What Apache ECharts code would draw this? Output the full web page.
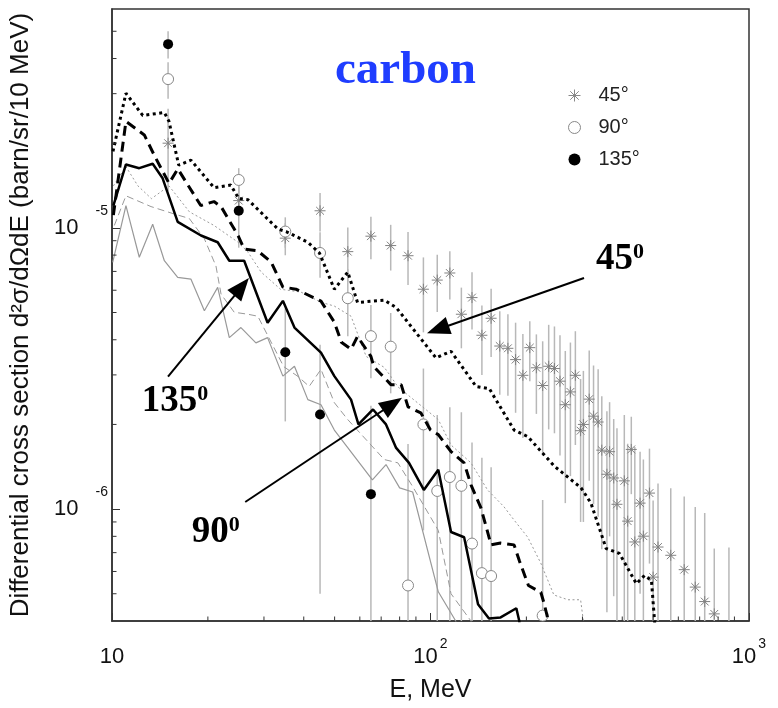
<!DOCTYPE html>
<html><head><meta charset="utf-8">
<script src="https://cdn.jsdelivr.net/npm/echarts@6/dist/echarts.min.js"></script>
<style>html,body{margin:0;padding:0;background:#fff}#c{width:778px;height:708px}</style>
</head><body><div id="c"></div>
<script>
// ---------------- data ----------------
// Experimental points (E in MeV, value in barn/sr/10 MeV, symmetric error)
const e45 = [15,25,35,45,55,65,75,85,95,105,115,125,135,145,155,165,175,185,195,205,215,225,235,245,255,265,275,285,296,302,315,325,336,345,358,365,376,385,406,416,427,438,455,466,487,500,518,568,626,678,726,778,865];
const v45 = [2.0e-5,1.25e-5,9.19e-6,1.15e-5,8.23e-6,9.34e-6,8.65e-6,7.96e-6,6.05e-6,6.52e-6,6.91e-6,4.93e-6,5.65e-6,4.15e-6,4.77e-6,3.80e-6,3.73e-6,3.40e-6,2.99e-6,3.75e-6,3.18e-6,2.75e-6,3.22e-6,3.16e-6,2.85e-6,2.35e-6,2.61e-6,2.99e-6,1.90e-6,2.0e-6,2.46e-6,2.14e-6,2.04e-6,1.62e-6,1.33e-6,1.60e-6,1.29e-6,1.04e-6,1.26e-6,9.06e-7,1.63e-6,7.64e-7,1.05e-6,8.01e-7,1.14e-6,5.73e-7,7.33e-7,6.85e-7,6.09e-7,5.28e-7,4.69e-7,4.24e-7,3.5e-7];
const err45 = [6.5e-6,1.5e-6,1.2e-6,1.8e-6,1.8e-6,1.6e-6,1.6e-6,1.7e-6,1.8e-6,1.5e-6,1.35e-6,1.2e-6,1.3e-6,1.15e-6,1.3e-6,1.25e-6,1.2e-6,1.2e-6,1.2e-6,0.9e-6,1.0e-6,1.2e-6,1.3e-6,1.3e-6,1.3e-6,1.3e-6,1.3e-6,1.3e-6,1.0e-6,1.1e-6,1.2e-6,1.1e-6,1.1e-6,0.9e-6,0.9e-6,0.8e-6,0.8e-6,0.9e-6,0.9e-6,0.8e-6,0.5e-6,0.9e-6,0.55e-6,0.7e-6,0.5e-6,0.5e-6,0.5e-6,0.5e-6,0.5e-6,0.49e-6,0.5e-6,0.3e-6,0.38e-6];

const e90 = [15,25,35,45,55,65,75,85,95,105,115,125,135,145,155,225];
const v90 = [3.38e-5,1.48e-5,9.7e-6,8.14e-6,5.62e-6,4.12e-6,3.78e-6,5.35e-7,2.0e-6,1.16e-6,1.30e-6,1.21e-6,7.54e-7,5.92e-7,5.78e-7,4.18e-7];
const err90 = [5e-6,1.5e-6,1.2e-6,1.5e-6,1.5e-6,1.2e-6,1.2e-6,1.17e-6,1.16e-6,1.0e-6,1.0e-6,1.0e-6,0.97e-6,0.93e-6,0.83e-6,0.66e-6];

const e135 = [15,25,35,45,65];
const v135 = [4.5e-5,1.15e-5,3.61e-6,2.17e-6,1.13e-6];
const err135 = [5e-6,3e-6,1.56e-6,1.67e-6,1.2e-6];

// Calculations, model A (thick black)
const calcA45E = [10.07,11.06,12.49,14.6,15.1,16.2,17.7,20.9,23.6,25.0,26.7,33.2,35.2,41.2,44.8,49.9,55,59,71.6,78,104,116,139,153,183,202,245,297,319,356,392,443,470,494,515];
const calcA45V = [1.87e-5,3.01e-5,2.51e-5,2.57e-5,2.39e-5,1.67e-5,1.74e-5,1.39e-5,1.42e-5,1.27e-5,1.26e-5,9.9e-6,9.7e-6,8.89e-6,8.14e-6,6.05e-6,6.96e-6,5.43e-6,5.53e-6,5.21e-6,3.45e-6,3.64e-6,2.73e-6,2.68e-6,1.91e-6,1.81e-6,1.42e-6,1.19e-6,1.05e-6,7.24e-7,6.95e-7,5.43e-7,5.81e-7,5.58e-7,3.0e-7];
const calcA90E = [10.1,11.06,12.63,13.58,15.1,16.1,19.0,20.9,22.0,24.2,24.9,26.0,28.7,31.6,34.4,37.8,45.3,49.9,52.5,56.3,59.0,65,66.4,75.1,80.9,85,93.2,100,105.8,116,127.5,134,144,155,166,183,190,203,222,227,233,236];
const calcA90V = [1.11e-5,2.39e-5,2.14e-5,1.81e-5,1.44e-5,1.62e-5,1.20e-5,1.24e-5,1.19e-5,9.9e-6,9.36e-6,8.41e-6,8.28e-6,7.56e-6,6.16e-6,6.05e-6,5.49e-6,4.62e-6,3.92e-6,3.70e-6,4.11e-6,3.49e-6,3.21e-6,2.77e-6,2.77e-6,2.31e-6,2.20e-6,1.91e-6,1.84e-6,1.60e-6,1.46e-6,1.22e-6,1.01e-6,7.46e-7,7.57e-7,7.46e-7,6.56e-7,5.35e-7,5.06e-7,4.65e-7,4.12e-7,3.0e-7];
const calcA135E = [10.1,11.06,12.18,13.42,14.42,16.08,19.03,21.47,23.35,26.0,30.8,34.4,37.4,45.3,49.9,56.3,59.4,66,72.5,78,85.6,95.3,105.8,116,127.5,141,152.6,166,186,190,192];
const calcA135V = [1.20e-5,1.68e-5,1.63e-5,1.69e-5,1.50e-5,1.05e-5,9.39e-6,8.89e-6,7.64e-6,7.64e-6,4.60e-6,5.50e-6,4.42e-6,3.60e-6,2.97e-6,2.45e-6,2.0e-6,2.26e-6,2.0e-6,1.65e-6,1.46e-6,1.17e-6,1.38e-6,8.29e-7,7.94e-7,4.59e-7,4.08e-7,4.12e-7,4.44e-7,4.0e-7,3.0e-7];

// Calculations, model B (thin grey)
const calcB45E = [10.1,11.06,12.06,13.3,15.1,17.5,20.9,24.8,26.7,29.4,33.8,39.2,45.3,49.9,56.3,62.8,71.6,75.1,79,105.8,116,134,151,170,183,202,222,244,270,296,302,305];
const calcB45V = [1.41e-5,1.65e-5,1.41e-5,1.27e-5,1.41e-5,1.14e-5,1.02e-5,8.91e-6,8.21e-6,6.96e-6,6.05e-6,5.91e-6,5.44e-6,5.27e-6,4.85e-6,3.49e-6,3.19e-6,2.96e-6,2.72e-6,2.08e-6,1.69e-6,1.46e-6,1.17e-6,1.02e-6,9.14e-7,7.94e-7,6.42e-7,4.95e-7,4.76e-7,4.76e-7,4.0e-7,3.0e-7];
const calcB90E = [10.17,11.06,13.26,15.69,17.48,19.5,21.2,22.0,24.2,26.7,28.7,30.9,34.6,38.4,41.6,45.3,49.9,55,71.6,79.0,88.0,105.8,116,134,140];
const calcB90V = [1.02e-5,1.30e-5,1.19e-5,1.12e-5,1.08e-5,9.14e-6,7.32e-6,5.81e-6,5.01e-6,4.93e-6,4.85e-6,4.12e-6,3.21e-6,2.96e-6,2.73e-6,3.14e-6,2.39e-6,2.08e-6,1.50e-6,1.46e-6,1.20e-6,8.4e-7,5.0e-7,4.0e-7,3.0e-7];
const calcB135E = [10.05,11.06,12.18,13.42,14.6,16.08,17.7,19.5,21.47,23.35,25.4,28.3,30.8,34.4,37.4,41.2,45.3,49.9,65.7,72.5,80,87.9,105.8,120,125];
const calcB135V = [7.54e-6,1.20e-5,7.86e-6,1.03e-5,7.64e-6,6.67e-6,6.57e-6,5.07e-6,6.14e-6,4.07e-6,4.42e-6,3.90e-6,4.07e-6,2.97e-6,3.22e-6,2.45e-6,2.35e-6,1.91e-6,1.27e-6,1.44e-6,1.19e-6,1.15e-6,5.08e-7,4.0e-7,3.0e-7];

// axes
const xRange = [10, 1000];
const yRange = [4e-7, 6e-5];
const xMinorTicks = [20,30,40,50,60,70,80,90,200,300,400,500,600,700,800,900];
const yMinorTicks = [5e-7,6e-7,7e-7,8e-7,9e-7,2e-6,3e-6,4e-6,5e-6,6e-6,7e-6,8e-6,9e-6,2e-5,3e-5,4e-5,5e-5];
const legendNames = ['45°','90°','135°'];

// annotations (data coordinates)
const arrows = [[303.4,6.63e-6,97.5,4.22e-6],[14.99,2.96e-6,26.9,6.63e-6],[26.2,1.06e-6,81.4,2.49e-6]];
const notes = [{t:'45',s:'0',E:330.9,v:7.75e-6},{t:'135',s:'0',E:12.4,v:2.41e-6},{t:'90',s:'0',E:17.8,v:8.27e-7}];

// ---------------- chart ----------------
const SANS = 'Liberation Sans';
const SERIF = 'Liberation Serif';
const star = 'path://M5 0L5 10M0 5L10 5M1.46 1.46L8.54 8.54M8.54 1.46L1.46 8.54';
const pairs = (E, V) => E.map((e, i) => [e, V[i]]);
const bars = (E, V, S) => E.map((e, i) => [e, Math.max(V[i] - S[i], 1e-9), V[i] + S[i]]);

function errRender(params, api) {
  const p1 = api.coord([api.value(0), api.value(2)]);
  const p2 = api.coord([api.value(0), api.value(1)]);
  return {type: 'line', shape: {x1: p1[0], y1: p1[1], x2: p2[0], y2: p2[1]},
    style: {stroke: '#b8b8b8', lineWidth: 1.5}};
}
function errSeries(data) {
  return {type: 'custom', renderItem: errRender, data: data, clip: true, z: 1,
    encode: {x: 0, y: [1, 2]}, silent: true};
}
function lineSeries(E, V, style) {
  return {type: 'line', data: pairs(E, V), showSymbol: false, symbol: 'none', clip: true,
    lineStyle: Object.assign({opacity: 1}, style), z: style.z || 4, silent: true};
}
const supFmt = (base, sup) => sup === '' ? '{b|' + base + '}' : '{b|' + base + '}{s|' + sup + '}';

const option = {
  animation: false,
  backgroundColor: '#fff',
  textStyle: {fontFamily: SANS},
  title: {text: 'carbon', left: 335, top: 47, padding: 0,
    textStyle: {fontFamily: SERIF, fontWeight: 'bold', fontSize: 47, color: '#1f3dff'}},
  legend: {
    orient: 'vertical', left: 563, top: 80, itemGap: 11, itemWidth: 12, itemHeight: 12,
    textStyle: {fontFamily: SANS, fontSize: 20, color: '#222', padding: [0, 0, 0, 13], lineHeight: 21},
    data: [
      {name: legendNames[0], icon: star, itemStyle: {color: '#888', borderColor: '#888', borderWidth: 1, opacity: 1}},
      {name: legendNames[1], icon: 'circle', itemStyle: {color: '#fff', borderColor: '#888', borderWidth: 1, opacity: 1}},
      {name: legendNames[2], icon: 'circle', itemStyle: {color: '#000', borderColor: '#000', borderWidth: 0, opacity: 1}}
    ]
  },
  grid: {left: 111, right: 29, top: 9, bottom: 87, show: true, borderColor: '#333', borderWidth: 1.5, backgroundColor: 'transparent'},
  xAxis: {
    type: 'log', logBase: 10, min: xRange[0], max: xRange[1],
    name: 'E, MeV', nameLocation: 'middle', nameGap: 57,
    nameTextStyle: {fontFamily: SANS, fontSize: 25, color: '#111'},
    axisLine: {show: true, lineStyle: {color: '#333', width: 1.5}},
    axisTick: {show: true, inside: true, length: 8, lineStyle: {color: '#333', width: 1}},
    splitLine: {show: false}, minorTick: {show: false},
    axisLabel: {
      margin: 16, color: '#111',
      formatter: function (v) {
        const e = Math.round(Math.log10(v));
        return e === 1 ? supFmt('10', '') : supFmt('10', String(e));
      },
      rich: {
        b: {fontFamily: SANS, fontSize: 22, lineHeight: 40, color: '#111'},
        s: {fontFamily: SANS, fontSize: 14, lineHeight: 12, verticalAlign: 'top', color: '#111', padding: [0, 0, 0, 2]}
      }
    }
  },
  yAxis: {
    type: 'log', logBase: 10, min: yRange[0], max: yRange[1],
    name: 'Differential cross section d²σ/dΩdE (barn/sr/10 MeV)', nameLocation: 'middle', nameGap: 78,
    nameTextStyle: {fontFamily: SANS, fontSize: 26, color: '#111'},
    axisLine: {show: true, lineStyle: {color: '#333', width: 1.5}},
    axisTick: {show: true, inside: true, length: 8, lineStyle: {color: '#333', width: 1}},
    splitLine: {show: false}, minorTick: {show: false},
    axisLabel: {
      margin: 4, color: '#111', showMinLabel: false, showMaxLabel: false,
      formatter: function (v) {
        const l = Math.log10(v), e = Math.round(l);
        if (Math.abs(l - e) > 0.01) return '';
        return supFmt('10', String(e));
      },
      rich: {
        b: {fontFamily: SANS, fontSize: 22, lineHeight: 48, color: '#111'},
        s: {fontFamily: SANS, fontSize: 14, lineHeight: 16, verticalAlign: 'top', color: '#111', padding: [0, 0, 0, 17]}
      }
    }
  },
  series: [
    // minor ticks
    {type: 'custom', silent: true, z: 10, clip: false, data: yMinorTicks.map(v => [xRange[0], v]),
      renderItem: (p, api) => { const c = api.coord([api.value(0), api.value(1)]);
        return {type: 'line', shape: {x1: c[0], y1: c[1], x2: c[0] + 4.5, y2: c[1]}, style: {stroke: '#333', lineWidth: 1}}; }},
    {type: 'custom', silent: true, z: 10, clip: false, data: xMinorTicks.map(e => [e, yRange[0]]),
      renderItem: (p, api) => { const c = api.coord([api.value(0), api.value(1)]);
        return {type: 'line', shape: {x1: c[0], y1: c[1], x2: c[0], y2: c[1] - 4.5}, style: {stroke: '#333', lineWidth: 1}}; }},
    // error bars
    errSeries(bars(e45, v45, err45)),
    errSeries(bars(e90, v90, err90)),
    errSeries(bars(e135, v135, err135)),
    // markers
    {name: legendNames[0], type: 'scatter', data: pairs(e45, v45), symbol: star, symbolSize: 11, z: 2, clip: true,
      itemStyle: {color: '#808080', borderColor: '#808080', borderWidth: 1, opacity: 1}},
    {name: legendNames[1], type: 'scatter', data: pairs(e90, v90), symbol: 'circle', symbolSize: 11, z: 2, clip: true,
      itemStyle: {color: '#fff', borderColor: '#888', borderWidth: 1, opacity: 1}},
    {name: legendNames[2], type: 'scatter', data: pairs(e135, v135), symbol: 'circle', symbolSize: 10, z: 2, clip: true,
      itemStyle: {color: '#000', borderWidth: 0, opacity: 1}},
    // model B (thin grey)
    lineSeries(calcB45E, calcB45V, {color: '#999', width: 1, type: [2, 2.5], z: 3}),
    lineSeries(calcB90E, calcB90V, {color: '#999', width: 1, type: [7, 4], z: 3}),
    lineSeries(calcB135E, calcB135V, {color: '#999', width: 1.2, type: 'solid', z: 3}),
    // model A (thick black)
    lineSeries(calcA45E, calcA45V, {color: '#000', width: 3, type: [3, 3.5], cap: 'butt', z: 4}),
    lineSeries(calcA90E, calcA90V, {color: '#000', width: 3, type: [10, 6], cap: 'butt', z: 4}),
    lineSeries(calcA135E, calcA135V, {color: '#000', width: 2.5, type: 'solid', z: 4}),
    // arrows
    {type: 'custom', silent: true, z: 6, clip: false, data: arrows,
      encode: {x: [0, 2], y: [1, 3]},
      renderItem: (p, api) => {
        const a = api.coord([api.value(0), api.value(1)]);
        const b = api.coord([api.value(2), api.value(3)]);
        const dx = b[0] - a[0], dy = b[1] - a[1], L = Math.hypot(dx, dy), ux = dx / L, uy = dy / L;
        const hl = 23, hw = 9;
        const bs = [b[0] - ux * hl, b[1] - uy * hl];
        return {type: 'group', children: [
          {type: 'line', shape: {x1: a[0], y1: a[1], x2: bs[0] + ux * 2, y2: bs[1] + uy * 2}, style: {stroke: '#000', lineWidth: 2}},
          {type: 'polygon', shape: {points: [b, [bs[0] - uy * hw, bs[1] + ux * hw], [bs[0] + uy * hw, bs[1] - ux * hw]]}, style: {fill: '#000'}}
        ]};
      }},
    // annotation labels
    {type: 'custom', silent: true, z: 7, clip: false, data: notes.map((n, i) => [n.E, n.v, i]),
      renderItem: (p, api) => {
        const c = api.coord([api.value(0), api.value(1)]);
        const n = notes[api.value(2)];
        return {type: 'text', x: c[0], y: c[1], style: {
          text: '{b|' + n.t + '}{s|' + n.s + '}', align: 'left', verticalAlign: 'middle',
          rich: {
            b: {fontFamily: SERIF, fontWeight: 'bold', fontSize: 37, lineHeight: 36, fill: '#000'},
            s: {fontFamily: SERIF, fontWeight: 'bold', fontSize: 22, lineHeight: 25, verticalAlign: 'top', fill: '#000'}
          }}};
      }}
  ]
};
const chart = echarts.init(document.getElementById('c'), null, {renderer: 'canvas'});
chart.setOption(option);
</script>
</body></html>
